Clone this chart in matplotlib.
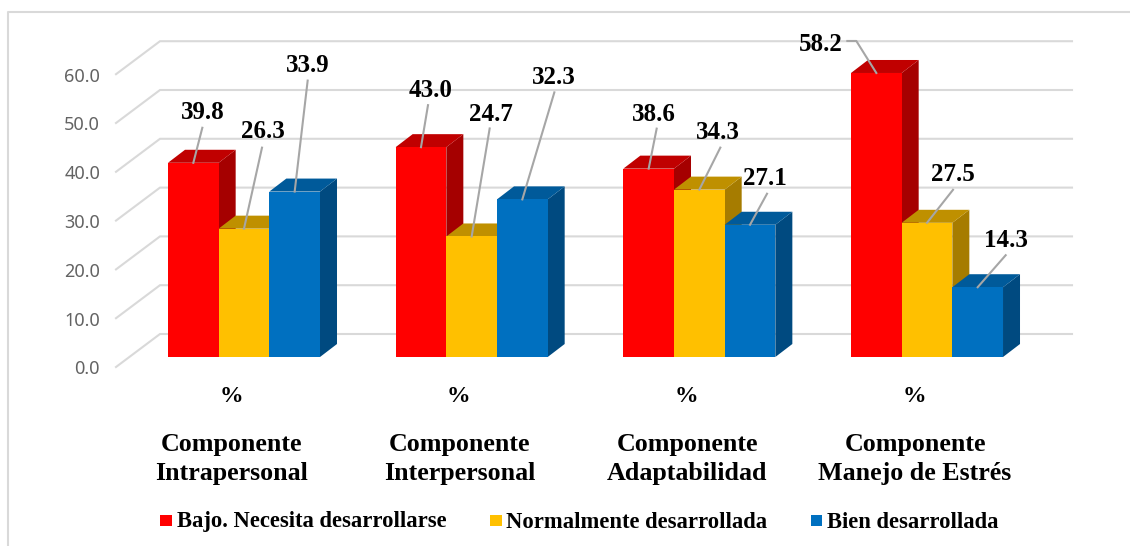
import matplotlib
matplotlib.use("Agg")
import matplotlib.pyplot as plt
from matplotlib.patches import Polygon, Rectangle

categories = ["Componente\nIntrapersonal", "Componente\nInterpersonal",
              "Componente\nAdaptabilidad", "Componente\nManejo de Estrés"]
series_names = ["Bajo. Necesita desarrollarse", "Normalmente desarrollada", "Bien desarrollada"]
bajo = [39.8, 43.0, 38.6, 58.2]
normal = [26.3, 24.7, 34.3, 27.5]
bien = [33.9, 32.3, 27.1, 14.3]
y_ticks = [0, 10, 20, 30, 40, 50, 60]

W, H = 1130, 546
PX_X = 227.67      # pixels per category
PX_Y = 4.88        # pixels per value unit
X0, Y0 = 244, 357  # pixel of first category centre / value 0 on bar front plane

fig = plt.figure(figsize=(W / 100, H / 100), dpi=100, facecolor="white")
ax = fig.add_axes([0, 0, 1, 1])
ax.set_xlim(-X0 / PX_X, (W - X0) / PX_X)
ax.set_ylim(-(H - Y0) / PX_Y, Y0 / PX_Y)
ax.axis("off")

def dx(p): return p / PX_X
def dy(p): return p / PX_Y

SERIF = "Liberation Serif"
GRID = "#d9d9d9"
faces = [("#ff0000", "#c00000", "#a50000"),
         ("#ffc000", "#bf9000", "#a67c00"),
         ("#0070c0", "#005a9a", "#004a80")]
BW = dx(50.67)
DX, DY = dx(17), dy(13)

# Value gridlines with oblique floor / wall segments
for t in y_ticks:
    yb = t + dy(23)
    ax.plot([dx(116 - X0), dx(160 - X0), dx(1072 - X0)],
            [t - dy(10), yb, yb], color=GRID, lw=1.5, zorder=1, solid_joinstyle="miter")
    ax.text(dx(100 - X0), t - dy(12.5), f"{t:.1f}", ha="right", va="center",
            family="Noto Sans", fontsize=13, color="#636363")

# 3D-looking bars
for s, vals in enumerate([bajo, normal, bien]):
    front, top, side = faces[s]
    for i, v in enumerate(vals):
        x0 = i + (s - 1.5) * BW
        x1 = x0 + BW
        z = 2 + s
        ax.add_patch(Polygon([(x1, 0), (x1 + DX, DY), (x1 + DX, v + DY), (x1, v)], fc=side, ec="none", zorder=z))
        ax.add_patch(Polygon([(x0, v), (x0 + DX, v + DY), (x1 + DX, v + DY), (x1, v)], fc=top, ec="none", zorder=z))
        ax.add_patch(Rectangle((x0, 0), BW, v, fc=front, ec="none", zorder=z))

# Label placement relative to the centre of each bar's top edge (pixels: right, up)
label_off = [[(9, 50), (19, 97), (13, 126)],
             [(10, 57), (19, 122), (31, 122)],
             [(5, 54), (19, 57), (15, 46)],
             [(-56, 28), (26, 48), (28, 47)]]
leader_off = [[(9, 35), (18, 81), (13, 111)],
              [(7, 42), (18, 108), (32, 107)],
              [(8, 40), (21, 42), (17, 31)],
              [(-20, 32), (26, 33), (28, 32)]]
for s, vals in enumerate([bajo, normal, bien]):
    for i, v in enumerate(vals):
        xc = i + (s - 1) * BW
        lx, ly = label_off[i][s]
        ex, ey = leader_off[i][s]
        ax.text(xc + dx(lx), v + dy(ly), f"{v:.1f}", ha="center", va="center",
                family=SERIF, weight="bold", fontsize=18, color="black", zorder=20)
        xs = [xc, xc + dx(ex)]
        ys = [v, v + dy(ey)]
        if ex < 0:
            xs.append(xc + dx(ex - 9))
            ys.append(v + dy(ey))
        ax.plot(xs, ys, color="#a6a6a6", lw=1.5, zorder=15)

# Category labels
for i, c in enumerate(categories):
    ax.text(i + dx(-13), dy(Y0 - 396), "%", ha="center", va="center", family=SERIF,
            weight="bold", fontsize=17, color="black")
    ax.text(i + dx(-12), dy(Y0 - 459), c, ha="center", va="center", family=SERIF, weight="bold",
            fontsize=18.7, color="black", linespacing=1.31)

# Legend
for sw, tx, name, f in zip([160, 490, 811], [177, 506, 827], series_names, faces):
    ax.add_patch(Rectangle((dx(sw - X0), dy(Y0 - 526)), dx(11.5), dy(11), fc=f[0], ec="none"))
    ax.text(dx(tx - X0), dy(Y0 - 522), name, ha="left", va="center", family=SERIF,
            weight="bold", fontsize=16.3, color="black")

# Chart frame (open at the right and bottom)
ax.plot([dx(8 - X0), dx(8 - X0), dx(W - X0)],
        [dy(Y0 - 546), dy(Y0 - 12), dy(Y0 - 12)], color=GRID, lw=1.5, zorder=0)

fig.savefig("out.png", dpi=100)
